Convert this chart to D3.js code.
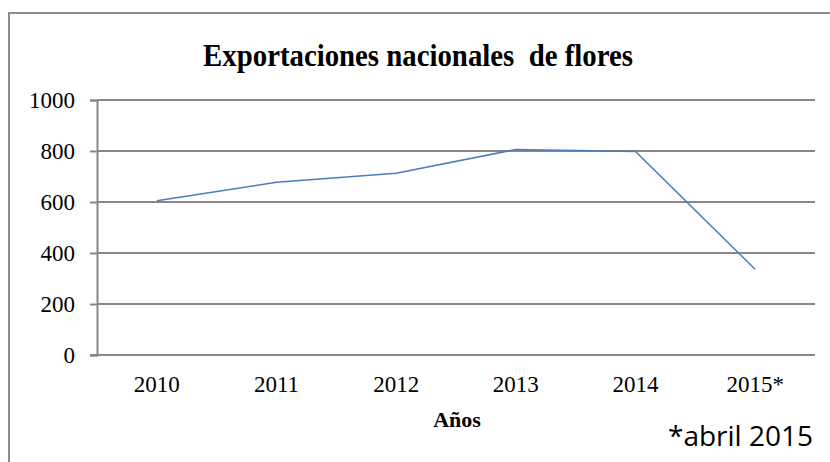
<!DOCTYPE html>
<html>
<head>
<meta charset="utf-8">
<script src="https://cdn.jsdelivr.net/npm/d3@7"></script>
<style>
  html, body { margin: 0; padding: 0; background: #fff; }
  svg { display: block; }
</style>
</head>
<body>
<svg id="chart"></svg>
<script>
(() => {
  const years = ["2010", "2011", "2012", "2013", "2014", "2015*"];
  const exports = [605, 677, 713, 806, 798, 336];
  const yTicks = [0, 200, 400, 600, 800, 1000];

  const width = 830, height = 462;
  const plot = { left: 97, right: 815, top: 100, bottom: 355 };
  const serif = "'Liberation Serif', 'Times New Roman', serif";

  const svg = d3.select("#chart")
    .attr("width", width)
    .attr("height", height)
    .attr("viewBox", [0, 0, width, height]);

  // frame of the chart object (cropped at right and bottom)
  svg.append("rect")
    .attr("x", 9).attr("y", 13)
    .attr("width", 840).attr("height", 470)
    .attr("fill", "none")
    .attr("stroke", "#8c8c8c")
    .attr("stroke-width", 2);

  const x = d3.scaleBand().domain(years).range([plot.left, plot.right]);
  const y = d3.scaleLinear().domain([0, 1000]).range([plot.bottom, plot.top]);

  // gridlines
  svg.append("g")
    .selectAll("line")
    .data(yTicks.filter(d => d > 0))
    .join("line")
    .attr("x1", plot.left).attr("x2", plot.right)
    .attr("y1", d => y(d)).attr("y2", d => y(d))
    .attr("stroke", "#888")
    .attr("stroke-width", 2);

  // y axis
  const yAxis = svg.append("g")
    .attr("transform", `translate(${plot.left},0)`)
    .call(d3.axisLeft(y).tickValues(yTicks).tickFormat(d3.format("d")).tickSize(7).tickPadding(15));
  yAxis.select(".domain").attr("stroke", "#888").attr("stroke-width", 2);
  yAxis.selectAll(".tick line").attr("stroke", "#888").attr("stroke-width", 2);
  yAxis.selectAll(".tick text")
    .attr("fill", "#000")
    .style("font", `23px ${serif}`);

  // x axis
  const xAxis = svg.append("g")
    .attr("transform", `translate(0,${plot.bottom})`)
    .call(d3.axisBottom(x).tickSize(0).tickPadding(21));
  xAxis.select(".domain").remove();
  xAxis.append("line")
    .attr("x1", plot.left - 7).attr("x2", plot.right)
    .attr("stroke", "#888").attr("stroke-width", 2);
  xAxis.selectAll(".tick text")
    .attr("fill", "#000")
    .style("font", `23px ${serif}`);

  // series line
  const line = d3.line()
    .x((d, i) => x(years[i]) + x.bandwidth() / 2)
    .y(d => y(d));
  svg.append("path")
    .datum(exports)
    .attr("d", line)
    .attr("fill", "none")
    .attr("stroke", "#4a7ebb")
    .attr("stroke-width", 1.5);

  // title (slightly condensed like the original)
  svg.append("text")
    .attr("transform", "translate(418,66) scale(0.9,1)")
    .attr("text-anchor", "middle")
    .attr("xml:space", "preserve")
    .style("white-space", "pre")
    .style("font", `bold 32px ${serif}`)
    .text("Exportaciones nacionales  de flores");

  // axis title
  svg.append("text")
    .attr("x", 457).attr("y", 427)
    .attr("text-anchor", "middle")
    .style("font", `bold 22px ${serif}`)
    .text("Años");

  // footnote
  svg.append("text")
    .attr("x", 813).attr("y", 446)
    .attr("text-anchor", "end")
    .style("font", "28px 'Open Sans', 'Noto Sans', sans-serif")
    .text("*abril 2015");
})();
</script>
</body>
</html>
